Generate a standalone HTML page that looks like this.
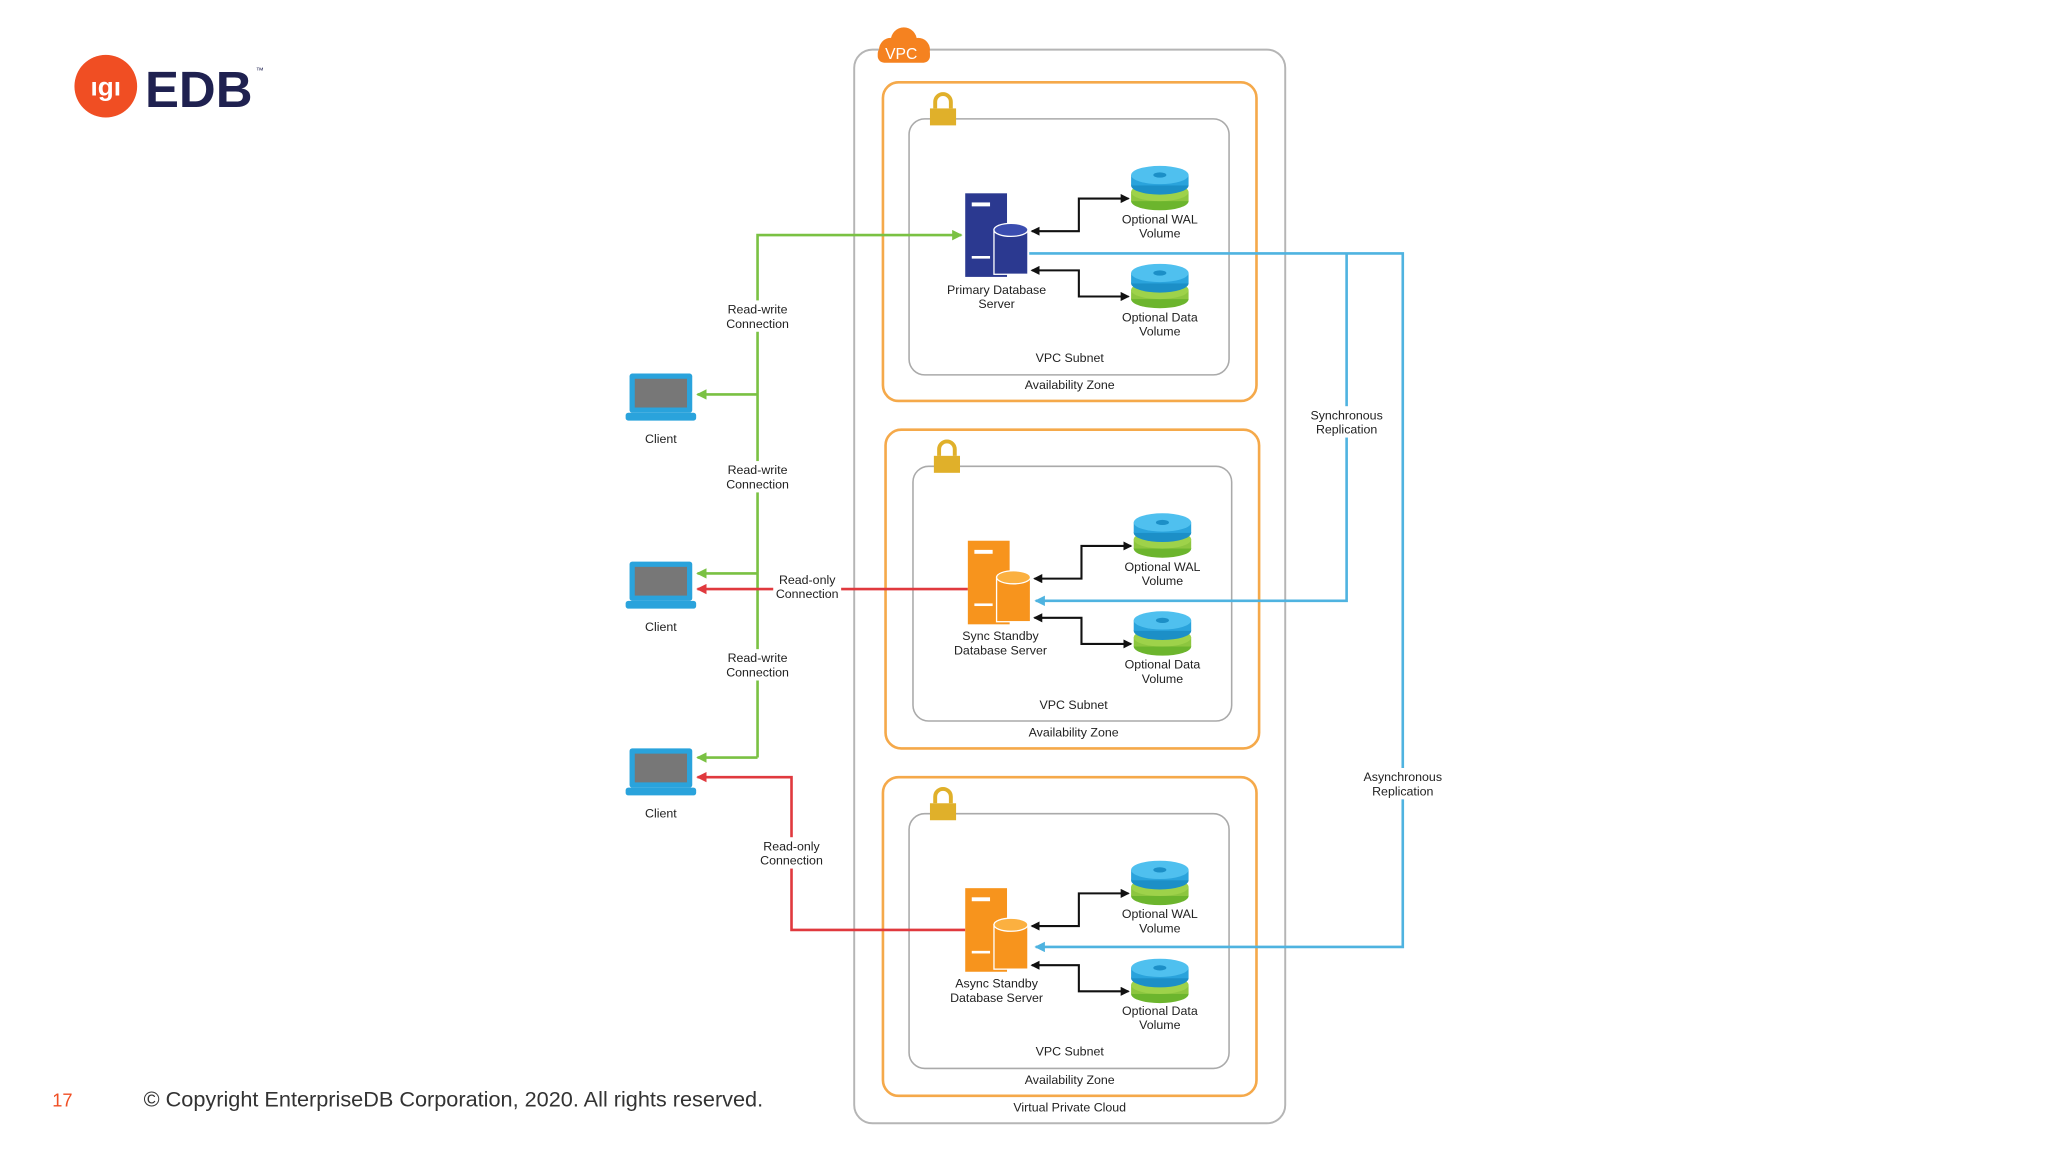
<!DOCTYPE html>
<html><head><meta charset="utf-8"><style>
html,body{margin:0;padding:0;background:#fff;}
svg{display:block}
text{font-family:"Liberation Sans",sans-serif;}
</style></head><body>
<svg width="2048" height="1152" viewBox="0 0 1568 882" xmlns="http://www.w3.org/2000/svg">
<defs>
<marker id="ag" markerWidth="8" markerHeight="8" refX="7" refY="4" orient="auto" markerUnits="userSpaceOnUse"><path d="M0,0 L8,4 L0,8z" fill="#7ac143"/></marker>
<marker id="ar" markerWidth="8" markerHeight="8" refX="7" refY="4" orient="auto" markerUnits="userSpaceOnUse"><path d="M0,0 L8,4 L0,8z" fill="#e0393e"/></marker>
<marker id="ab" markerWidth="8" markerHeight="8" refX="7" refY="4" orient="auto" markerUnits="userSpaceOnUse"><path d="M0,0 L8,4 L0,8z" fill="#4fb3e0"/></marker>
<marker id="ak" markerWidth="7" markerHeight="7" refX="6" refY="3.5" orient="auto-start-reverse" markerUnits="userSpaceOnUse"><path d="M0,0 L7,3.5 L0,7z" fill="#111"/></marker>
<g id="vol">
 <ellipse cx="0" cy="16" rx="22" ry="7" fill="#6cb52d"/><rect x="-22" y="9" width="44" height="7" fill="#8dc63f"/><ellipse cx="0" cy="9" rx="22" ry="7" fill="#9ed24a"/>
 <ellipse cx="0" cy="4" rx="22" ry="7" fill="#1c8fc7"/><rect x="-22" y="-4" width="44" height="8" fill="#2aa3dc"/><ellipse cx="0" cy="-4" rx="22" ry="7" fill="#4fc0ef"/><ellipse cx="0" cy="-4" rx="5" ry="2" fill="#1c8fc7"/>
</g>
<g id="lap">
 <rect x="-24" y="-16" width="48" height="30" rx="2" fill="#2aa3dc"/><rect x="-20" y="-12" width="40" height="22" fill="#777"/>
 <rect x="-27" y="14" width="54" height="6" rx="2" fill="#2aa3dc"/>
</g>
<g id="lock"><path d="M-6,-2 v-5 a6,6 0 0 1 12,0 v5" fill="none" stroke="#e0b02a" stroke-width="3"/><rect x="-10" y="-2" width="20" height="13" fill="#e0b02a"/></g>
</defs>

<circle cx="81" cy="66" r="24" fill="#f04e23"/>
<text x="81" y="73" font-size="20" font-weight="bold" fill="#fff" text-anchor="middle">ıgı</text>
<text x="111" y="82" font-size="39" font-weight="bold" fill="#1f2150">EDB</text>
<text x="196" y="56" font-size="6" fill="#1f2150">™</text>

<text x="40" y="847" font-size="14" fill="#f04e23">17</text>
<text x="110" y="847" font-size="16.6" fill="#333">© Copyright EnterpriseDB Corporation, 2020. All rights reserved.</text>

<rect x="654" y="38" width="330" height="822" rx="14" fill="none" stroke="#b5b5b5" stroke-width="1.5"/>
<g fill="#f58220"><circle cx="682" cy="38" r="9"/><circle cx="692" cy="31" r="10"/><circle cx="703" cy="38" r="9"/><rect x="672" y="36" width="40" height="12" rx="5"/></g>
<text x="690" y="45" font-size="12" fill="#fff" text-anchor="middle">VPC</text>
<text x="819" y="851" font-size="9.5" text-anchor="middle" fill="#222">Virtual Private Cloud</text>

<rect x="676" y="63" width="286" height="244" rx="12" fill="none" stroke="#f5a94a" stroke-width="2"/>
<rect x="696" y="91" width="245" height="196" rx="12" fill="none" stroke="#aaa" stroke-width="1.2"/>
<use href="#lock" x="722" y="85"/>
<text x="819" y="277" font-size="9.5" text-anchor="middle" fill="#222">VPC Subnet</text>
<text x="819" y="298" font-size="9.5" text-anchor="middle" fill="#222">Availability Zone</text>
<rect x="678" y="329" width="286" height="244" rx="12" fill="none" stroke="#f5a94a" stroke-width="2"/>
<rect x="699" y="357" width="244" height="195" rx="12" fill="none" stroke="#aaa" stroke-width="1.2"/>
<use href="#lock" x="725" y="351"/>
<text x="822" y="543" font-size="9.5" text-anchor="middle" fill="#222">VPC Subnet</text>
<text x="822" y="564" font-size="9.5" text-anchor="middle" fill="#222">Availability Zone</text>
<rect x="676" y="595" width="286" height="244" rx="12" fill="none" stroke="#f5a94a" stroke-width="2"/>
<rect x="696" y="623" width="245" height="195" rx="12" fill="none" stroke="#aaa" stroke-width="1.2"/>
<use href="#lock" x="722" y="617"/>
<text x="819" y="808" font-size="9.5" text-anchor="middle" fill="#222">VPC Subnet</text>
<text x="819" y="830" font-size="9.5" text-anchor="middle" fill="#222">Availability Zone</text>

<g fill="none" stroke-width="2">
<path d="M580,580 V180 H736" stroke="#7ac143" marker-end="url(#ag)"/>
<path d="M580,302 H534" stroke="#7ac143" marker-end="url(#ag)"/>
<path d="M580,439 H534" stroke="#7ac143" marker-end="url(#ag)"/>
<path d="M580,580 H534" stroke="#7ac143" marker-end="url(#ag)"/>
<path d="M741,451 H534" stroke="#e0393e" marker-end="url(#ar)"/>
<path d="M739,712 H606 V595 H534" stroke="#e0393e" marker-end="url(#ar)"/>
<path d="M788,194 H1074 V725 H793" stroke="#4fb3e0" marker-end="url(#ab)"/>
<path d="M1031,194 V460 H793" stroke="#4fb3e0" marker-end="url(#ab)"/>
</g>
<g fill="none" stroke="#111" stroke-width="1.6">
<path d="M864,152 H826 V177 H790" marker-start="url(#ak)" marker-end="url(#ak)"/>
<path d="M864,227 H826 V207 H790" marker-start="url(#ak)" marker-end="url(#ak)"/>
<path d="M866,418 H828 V443 H792" marker-start="url(#ak)" marker-end="url(#ak)"/>
<path d="M866,493 H828 V473 H792" marker-start="url(#ak)" marker-end="url(#ak)"/>
<path d="M864,684 H826 V709 H790" marker-start="url(#ak)" marker-end="url(#ak)"/>
<path d="M864,759 H826 V739 H790" marker-start="url(#ak)" marker-end="url(#ak)"/>
</g>

<g>
 <rect x="739" y="148" width="32" height="64" fill="#2b3990"/><rect x="744" y="155" width="14" height="3" fill="#fff"/><rect x="744" y="196" width="14" height="2" fill="#fff"/>
 <rect x="761" y="176" width="26" height="34" fill="#2b3990" stroke="#fff" stroke-width="1"/><ellipse cx="774" cy="176" rx="13" ry="5" fill="#3b4db0" stroke="#fff" stroke-width="1"/>
</g>
<g>
 <rect x="741" y="414" width="32" height="64" fill="#f7941d"/><rect x="746" y="421" width="14" height="3" fill="#fff"/><rect x="746" y="462" width="14" height="2" fill="#fff"/>
 <rect x="763" y="442" width="26" height="34" fill="#f7941d" stroke="#fff" stroke-width="1"/><ellipse cx="776" cy="442" rx="13" ry="5" fill="#fbb040" stroke="#fff" stroke-width="1"/>
</g>
<g>
 <rect x="739" y="680" width="32" height="64" fill="#f7941d"/><rect x="744" y="687" width="14" height="3" fill="#fff"/><rect x="744" y="728" width="14" height="2" fill="#fff"/>
 <rect x="761" y="708" width="26" height="34" fill="#f7941d" stroke="#fff" stroke-width="1"/><ellipse cx="774" cy="708" rx="13" ry="5" fill="#fbb040" stroke="#fff" stroke-width="1"/>
</g>

<use href="#vol" x="888" y="138"/><use href="#vol" x="888" y="213"/>
<use href="#vol" x="890" y="404"/><use href="#vol" x="890" y="479"/>
<use href="#vol" x="888" y="670"/><use href="#vol" x="888" y="745"/>

<use href="#lap" x="506" y="302"/><use href="#lap" x="506" y="446"/><use href="#lap" x="506" y="589"/>

<g font-size="9.5" fill="#222" text-anchor="middle">
<text x="763" y="225">Primary Database</text><text x="763" y="236">Server</text>
<text x="766" y="490">Sync Standby</text><text x="766" y="501">Database Server</text>
<text x="763" y="756">Async Standby</text><text x="763" y="767">Database Server</text>
<text x="888" y="171">Optional WAL</text><text x="888" y="182">Volume</text>
<text x="888" y="246">Optional Data</text><text x="888" y="257">Volume</text>
<text x="890" y="437">Optional WAL</text><text x="890" y="448">Volume</text>
<text x="890" y="512">Optional Data</text><text x="890" y="523">Volume</text>
<text x="888" y="703">Optional WAL</text><text x="888" y="714">Volume</text>
<text x="888" y="777">Optional Data</text><text x="888" y="788">Volume</text>
<text x="506" y="339">Client</text><text x="506" y="483">Client</text><text x="506" y="626">Client</text>
</g>
<g font-size="9.5" fill="#222" text-anchor="middle">
<rect x="554" y="230" width="52" height="24" fill="#fff"/><text x="580" y="240">Read-write</text><text x="580" y="251">Connection</text>
<rect x="554" y="353" width="52" height="24" fill="#fff"/><text x="580" y="363">Read-write</text><text x="580" y="374">Connection</text>
<rect x="554" y="497" width="52" height="24" fill="#fff"/><text x="580" y="507">Read-write</text><text x="580" y="518">Connection</text>
<rect x="592" y="437" width="52" height="24" fill="#fff"/><text x="618" y="447">Read-only</text><text x="618" y="458">Connection</text>
<rect x="580" y="641" width="52" height="24" fill="#fff"/><text x="606" y="651">Read-only</text><text x="606" y="662">Connection</text>
<rect x="1002" y="311" width="58" height="24" fill="#fff"/><text x="1031" y="321">Synchronous</text><text x="1031" y="332">Replication</text>
<rect x="1042" y="588" width="64" height="24" fill="#fff"/><text x="1074" y="598">Asynchronous</text><text x="1074" y="609">Replication</text>
</g>
</svg>
</body></html>
